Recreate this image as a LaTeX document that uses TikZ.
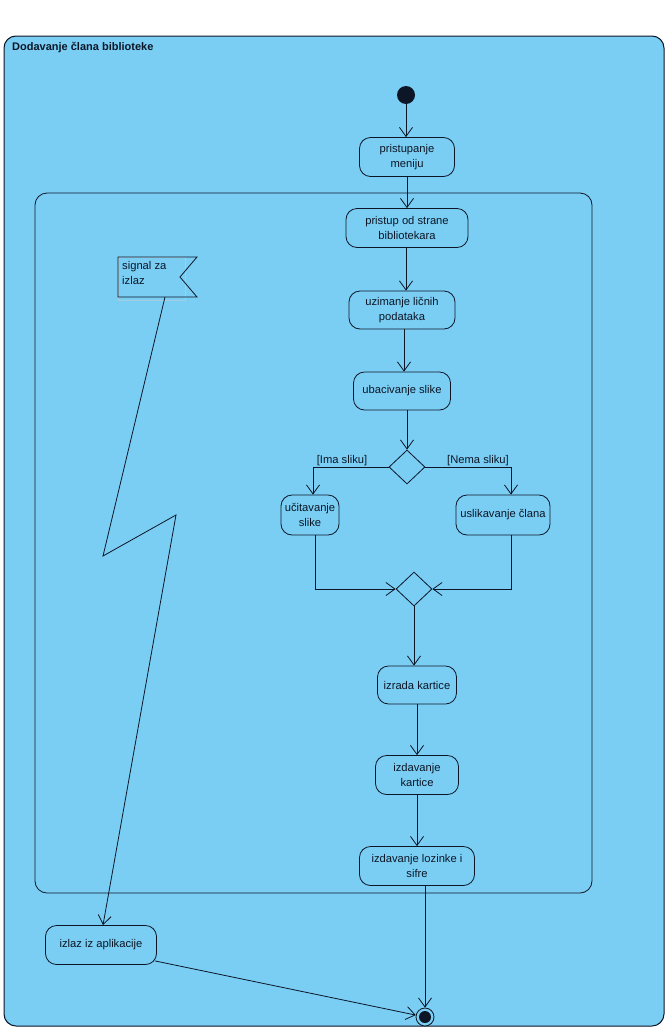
\documentclass[tikz,border=0pt]{standalone}
\usepackage{fontspec}
\setmainfont{Liberation Sans}
\usetikzlibrary{shapes.geometric,arrows.meta,calc}
\definecolor{vpblue}{RGB}{122,206,244}
\definecolor{ln}{RGB}{12,22,38}
\definecolor{faint}{RGB}{165,205,225}
\begin{document}
\begin{tikzpicture}[x=1pt,y=-1pt,
  act/.style={draw=ln,rounded corners=11pt,fill=vpblue,align=center,
    font=\fontsize{11.2}{15.5}\selectfont,inner sep=0pt,line width=0.8pt,text=ln},
  arr/.style={draw=ln,line width=0.8pt,-{Straight Barb[length=9pt,width=13pt]}},
  decis/.style={draw=ln,diamond,inner sep=0pt,minimum width=36pt,minimum height=34pt,line width=0.8pt,fill=vpblue},
  guard/.style={font=\fontsize{11.2}{13}\selectfont,text=ln,inner sep=0pt}]
\useasboundingbox (0,0) rectangle (668,1031);
\fill[white] (0,0) rectangle (668,1031);
% outer activity frame
\draw[ln,fill=vpblue,rounded corners=12pt,line width=1pt] (4,36) rectangle (664,1026);
\node[anchor=west,font=\bfseries\fontsize{11}{13}\selectfont,text=ln,inner sep=0pt] (title) at (12,48) {Dodavanje člana biblioteke};
% interruptible region
\draw[ln,rounded corners=12pt,line width=0.8pt] (35,193) rectangle (592,893);

% initial node
\node[circle,fill=ln,minimum size=18pt,inner sep=0pt] (start) at (406,95) {};

% actions
\node[act,minimum width=95pt,minimum height=39pt] (a1) at (407,157) {pristupanje\\meniju};
\node[act,minimum width=122pt,minimum height=39pt] (a2) at (407,228) {pristup od strane\\bibliotekara};
\node[act,minimum width=106pt,minimum height=38pt] (a3) at (402,310) {uzimanje ličnih\\podataka};
\node[act,minimum width=97pt,minimum height=38pt] (a4) at (402,391) {ubacivanje slike};
\node[decis] (d1) at (407,467) {};
\node[act,minimum width=58pt,minimum height=40pt] (a5) at (310,515) {učitavanje\\slike};
\node[act,minimum width=94pt,minimum height=40pt] (a6) at (503,515) {uslikavanje člana};
\node[decis] (d2) at (414,589) {};
\node[act,minimum width=79pt,minimum height=38pt] (a7) at (417,685) {izrada kartice};
\node[act,minimum width=83pt,minimum height=39pt] (a8) at (417,775) {izdavanje\\kartice};
\node[act,minimum width=115pt,minimum height=39pt] (a9) at (417,866) {izdavanje lozinke i\\sifre};
\node[act,minimum width=111pt,minimum height=39pt] (ex) at (101,945) {izlaz iz aplikacije};

% final node
\node[circle,draw=ln,line width=0.8pt,minimum size=18pt,inner sep=0pt,fill=vpblue] (fin) at (425,1017) {};
\fill[ln] (fin.center) circle (6pt);

% signal (accept event)
\draw[faint,line width=0.5pt] (118,257) rectangle (185,300);
\draw[ln,line width=0.8pt] (118,257) -- (197,257) -- (180,277) -- (197,297) -- (118,297) -- cycle;
\node[anchor=north west,align=left,font=\fontsize{11.2}{15.5}\selectfont,text=ln,inner sep=0pt] (sig) at (122,261) {signal za\\izlaz};

% flows
\draw[arr] (start) -- (start |- a1.north);
\draw[arr] (a1.south) -- (a1.south |- a2.north);
\coordinate (c23) at (406,0);
\draw[arr] (c23 |- a2.south) -- (c23 |- a3.north);
\coordinate (c34) at (404,0);
\draw[arr] (c34 |- a3.south) -- (c34 |- a4.north);
\draw[arr] (d1 |- a4.south) -- (d1.north);
\coordinate (cl) at (313,0);
\coordinate (cr) at (511,0);
\draw[arr] (d1.west) -- (cl |- d1.west) -- (cl |- a5.north);
\draw[arr] (d1.east) -- (cr |- d1.east) -- (cr |- a6.north);
\node[guard] (g1) at (342,461) {[Ima sliku]};
\node[guard] (g2) at (478,461) {[Nema sliku]};
\coordinate (ml) at (315,0);
\draw[arr] (ml |- a5.south) -- (ml |- d2.west) -- (d2.west);
\draw[arr] (cr |- a6.south) -- (cr |- d2.east) -- (d2.east);
\draw[arr] (d2.south) -- (d2.south |- a7.north);
\draw[arr] (a7.south) -- (a8.north);
\draw[arr] (a8.south) -- (a9.north);
\draw[arr] (fin |- a9.south) -- (fin.north);
\coordinate (exo) at ($(ex.south east)+(-2,-4)$);
\draw[arr] (exo) -- (fin);
% interrupting edge (lightning)
\coordinate (z0) at (165,297);
\coordinate (z1) at (103,556);
\coordinate (z2) at (176,515);
\draw[arr] (z0) -- (z1) -- (z2) -- (z1 |- ex.north);
\end{tikzpicture}
\end{document}
